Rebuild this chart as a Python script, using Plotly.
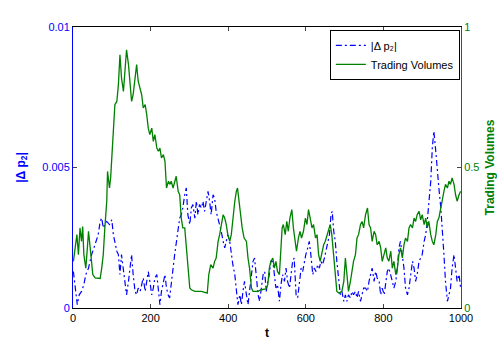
import plotly.graph_objects as go

# |Δp2| series (left axis)
t_dp = [1, 8, 11, 16, 22, 28, 33, 40, 44, 48, 54, 59, 65, 70, 74, 78, 82, 87, 94, 100,
        104, 108, 113, 117, 121, 125, 130, 134, 138, 143, 147, 151, 155, 160, 164, 168, 173, 177,
        181, 186, 190, 194, 198, 203, 207, 211, 216, 220, 224, 228, 233, 237, 241, 245, 249, 253,
        258, 262, 266, 271, 275, 279, 283, 288, 292, 296, 301, 305, 309, 314, 318, 322, 326, 331,
        335, 339, 344, 348, 352, 356, 361, 365, 369, 374, 378, 382, 387, 391, 395, 399, 404, 408,
        412, 417, 421, 425, 430, 434, 438, 442, 447, 451, 455, 460, 464, 468, 472, 477, 481, 485,
        490, 494, 498, 502, 506, 510, 515, 519, 523, 527, 532, 536, 540, 545, 549, 553, 558, 562,
        566, 570, 575, 579, 583, 588, 592, 596, 600, 605, 609, 613, 618, 622, 626, 631, 635, 639,
        643, 648, 652, 656, 661, 665, 668, 672, 676, 680, 685, 689, 693, 698, 702, 706, 710, 715,
        719, 723, 728, 732, 736, 741, 745, 749, 754, 759, 763, 767, 771, 776, 780, 784, 789, 793,
        797, 802, 806, 810, 814, 819, 823, 827, 832, 836, 840, 844, 849, 853, 857, 862, 866, 870,
        875, 879, 883, 887, 892, 896, 900, 905, 909, 913, 917, 922, 926, 930, 935, 939, 943, 948,
        952, 956, 960, 965, 969, 973, 977, 982, 986, 990, 995, 999]
dp = [0.00130, 0.00059, 0.00012, 0.00047, 0.00059, 0.00083, 0.00119, 0.00142, 0.00166, 0.00190,
      0.00214, 0.00237, 0.00261, 0.00308, 0.00320, 0.00285, 0.00297, 0.00308, 0.00297, 0.00314,
      0.00261, 0.00237, 0.00202, 0.00190, 0.00119, 0.00190, 0.00142, 0.00095, 0.00047, 0.00095,
      0.00142, 0.00190, 0.00119, 0.00059, 0.00047, 0.00071, 0.00059, 0.00083, 0.00107, 0.00059,
      0.00095, 0.00130, 0.00095, 0.00047, 0.00071, 0.00107, 0.00119, 0.00071, 0.00012, 0.00059,
      0.00095, 0.00119, 0.00071, 0.00047, 0.00036, 0.00095, 0.00142, 0.00190, 0.00237, 0.00285,
      0.00320, 0.00332, 0.00356, 0.00403, 0.00427, 0.00332, 0.00297, 0.00356, 0.00368, 0.00320,
      0.00380, 0.00332, 0.00368, 0.00356, 0.00380, 0.00344, 0.00391, 0.00415, 0.00380, 0.00332,
      0.00403, 0.00391, 0.00344, 0.00320, 0.00297, 0.00273, 0.00237, 0.00214, 0.00237, 0.00261,
      0.00237, 0.00190, 0.00154, 0.00119, 0.00059, 0.00012, 0.00047, 0.00012, 0.00059, 0.00095,
      0.00047, 0.00012, 0.00059, 0.00119, 0.00166, 0.00178, 0.00119, 0.00047, 0.00024, 0.00059,
      0.00119, 0.00130, 0.00059, 0.00095, 0.00119, 0.00166, 0.00166, 0.00119, 0.00071, 0.00083,
      0.00024, 0.00083, 0.00119, 0.00095, 0.00142, 0.00095, 0.00071, 0.00119, 0.00166, 0.00178,
      0.00047, 0.00036, 0.00095, 0.00142, 0.00130, 0.00166, 0.00190, 0.00214, 0.00237, 0.00190,
      0.00119, 0.00142, 0.00130, 0.00154, 0.00142, 0.00166, 0.00154, 0.00178, 0.00202, 0.00237,
      0.00261, 0.00332, 0.00344, 0.00273, 0.00237, 0.00166, 0.00083, 0.00047, 0.00059, 0.00024,
      0.00047, 0.00024, 0.00047, 0.00036, 0.00059, 0.00047, 0.00059, 0.00036, 0.00059, 0.00024,
      0.00047, 0.00071, 0.00071, 0.00059, 0.00095, 0.00119, 0.00142, 0.00095, 0.00130, 0.00107,
      0.00095, 0.00047, 0.00071, 0.00047, 0.00095, 0.00130, 0.00142, 0.00119, 0.00095, 0.00071,
      0.00095, 0.00142, 0.00214, 0.00237, 0.00190, 0.00142, 0.00071, 0.00047, 0.00071, 0.00119,
      0.00166, 0.00142, 0.00095, 0.00119, 0.00166, 0.00178, 0.00190, 0.00237, 0.00261, 0.00308,
      0.00380, 0.00451, 0.00569, 0.00629, 0.00558, 0.00474, 0.00427, 0.00356, 0.00285, 0.00190,
      0.00095, 0.00024, 0.00047, 0.00071, 0.00142, 0.00190, 0.00142, 0.00095, 0.00119, 0.00071]

# Trading volume series (right axis)
t_vol = [1, 5, 10, 14, 18, 22, 25, 28, 33, 37, 40, 46, 51, 57, 70, 74, 78, 82, 87, 89,
         94, 97, 100, 104, 108, 113, 117, 121, 125, 130, 134, 138, 143, 147, 151, 155, 160, 164,
         168, 173, 177, 181, 186, 190, 194, 198, 203, 207, 211, 216, 220, 224, 228, 233, 237, 241,
         246, 250, 253, 258, 262, 266, 271, 275, 279, 283, 288, 292, 296, 301, 305, 314, 331, 346,
         350, 355, 361, 365, 369, 374, 378, 382, 387, 391, 395, 399, 404, 408, 412, 417, 421, 424,
         427, 431, 436, 441, 447, 451, 455, 460, 464, 477, 485, 497, 502, 506, 510, 515, 519, 523,
         527, 532, 536, 539, 542, 547, 551, 555, 559, 564, 568, 573, 576, 581, 585, 589, 594, 599,
         603, 607, 612, 616, 620, 625, 629, 633, 637, 642, 646, 650, 655, 659, 663, 667, 672, 676,
         680, 686, 693, 698, 702, 706, 710, 715, 719, 723, 728, 732, 736, 741, 745, 749, 754, 759,
         763, 767, 771, 776, 780, 784, 789, 793, 797, 802, 806, 810, 814, 819, 823, 827, 832, 836,
         840, 844, 849, 853, 857, 862, 866, 870, 875, 879, 883, 887, 892, 896, 900, 905, 909, 913,
         917, 922, 926, 930, 935, 939, 943, 948, 952, 956, 960, 965, 969, 973, 977, 982, 986, 990,
         995, 999]
vol = [0.166, 0.214, 0.261, 0.190, 0.285, 0.237, 0.290, 0.190, 0.142, 0.214, 0.273, 0.190, 0.119,
       0.107, 0.105, 0.142, 0.190, 0.285, 0.380, 0.486, 0.427, 0.463, 0.546, 0.640, 0.724, 0.735,
       0.795, 0.901, 0.819, 0.771, 0.842, 0.919, 0.866, 0.783, 0.735, 0.759, 0.819, 0.866, 0.807,
       0.783, 0.759, 0.712, 0.724, 0.688, 0.640, 0.617, 0.640, 0.593, 0.617, 0.569, 0.558, 0.569,
       0.534, 0.546, 0.522, 0.427, 0.451, 0.440, 0.451, 0.427, 0.451, 0.469, 0.415, 0.403, 0.320,
       0.285, 0.285, 0.225, 0.142, 0.071, 0.065, 0.059, 0.059, 0.053, 0.119, 0.154, 0.142, 0.166,
       0.178, 0.237, 0.261, 0.297, 0.332, 0.320, 0.297, 0.261, 0.237, 0.261, 0.320, 0.380, 0.415,
       0.427, 0.391, 0.332, 0.285, 0.249, 0.237, 0.178, 0.142, 0.071, 0.059, 0.059, 0.065, 0.068,
       0.083, 0.142, 0.166, 0.178, 0.142, 0.166, 0.130, 0.119, 0.225, 0.285, 0.297, 0.261, 0.308,
       0.273, 0.320, 0.350, 0.285, 0.237, 0.202, 0.249, 0.273, 0.249, 0.273, 0.320, 0.297, 0.350,
       0.320, 0.285, 0.297, 0.249, 0.261, 0.190, 0.166, 0.202, 0.225, 0.237, 0.261, 0.285, 0.297,
       0.261, 0.190, 0.119, 0.059, 0.053, 0.059, 0.095, 0.178, 0.119, 0.059, 0.095, 0.130, 0.166,
       0.190, 0.249, 0.261, 0.297, 0.308, 0.285, 0.332, 0.356, 0.297, 0.285, 0.237, 0.273, 0.261,
       0.225, 0.237, 0.214, 0.166, 0.190, 0.214, 0.178, 0.166, 0.202, 0.142, 0.166, 0.119, 0.142,
       0.190, 0.214, 0.178, 0.225, 0.249, 0.237, 0.285, 0.297, 0.285, 0.320, 0.308, 0.332, 0.344,
       0.314, 0.332, 0.297, 0.320, 0.285, 0.308, 0.261, 0.237, 0.225, 0.261, 0.308, 0.320, 0.356,
       0.380, 0.415, 0.440, 0.427, 0.451, 0.440, 0.463, 0.440, 0.403, 0.380, 0.403, 0.415, 0.427]

x_ticks = [0, 200, 400, 600, 800, 1000]
left_ticks = [0, 0.005, 0.01]
left_tick_text = ["0", "0.005", "0.01"]
right_ticks = [0, 0.5, 1]
right_tick_text = ["0", "0.5", "1"]

BLUE = "#0000ff"
GREEN = "#008000"
FONT = "Liberation Sans, Arial, sans-serif"

fig = go.Figure()
fig.add_trace(go.Scatter(
    x=t_dp, y=dp, mode="lines", name="|Δ p₂|",
    line=dict(color=BLUE, width=1.2, dash="6px,3px,2px,3px"), yaxis="y"))
fig.add_trace(go.Scatter(
    x=t_vol, y=vol, mode="lines", name="Trading Volumes",
    line=dict(color=GREEN, width=1.3), yaxis="y2"))

fig.update_layout(
    width=497, height=340,
    margin=dict(l=73, r=36, t=27, b=32, autoexpand=False),
    paper_bgcolor="white", plot_bgcolor="white",
    font=dict(family=FONT, size=11, color="black"),
    showlegend=True,
    legend=dict(x=0.997, y=0.99, xanchor="right", yanchor="top",
                bgcolor="white", bordercolor="black", borderwidth=1,
                font=dict(size=11, color="black"),
                tracegroupgap=0, itemwidth=30),
    xaxis=dict(range=[0, 1000], tickvals=x_ticks, ticks="inside", ticklen=4,
               showline=True, linecolor="black", linewidth=1, mirror="ticks",
               showgrid=False, zeroline=False, automargin=False,
               tickfont=dict(size=11, color="black"),
               title=dict(text="<b>t</b>", font=dict(size=12, color="black"), standoff=6)),
    yaxis=dict(range=[0, 0.01], tickvals=left_ticks, ticktext=left_tick_text,
               ticks="inside", ticklen=4, showline=True, linecolor=BLUE, linewidth=1,
               showgrid=False, zeroline=False, automargin=False,
               tickfont=dict(size=11, color=BLUE),
               title=dict(text="<b>|Δ p<sub>2</sub>|</b>", font=dict(size=12, color=BLUE),
                          standoff=14)),
    yaxis2=dict(range=[0, 1], tickvals=right_ticks, ticktext=right_tick_text,
                overlaying="y", side="right",
                ticks="inside", ticklen=4, showline=True, linecolor=GREEN, linewidth=1,
                showgrid=False, zeroline=False, automargin=False,
                tickfont=dict(size=11, color=GREEN),
                title=dict(text="<b>Trading Volumes</b>", font=dict(size=12, color=GREEN),
                           standoff=8)),
)

fig.write_html("out.html")
